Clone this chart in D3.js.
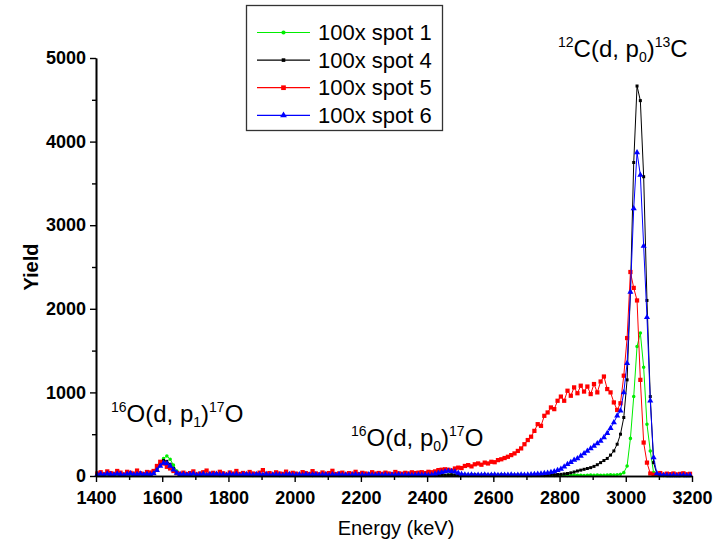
<!DOCTYPE html>
<html><head><meta charset="utf-8">
<script src="https://cdn.jsdelivr.net/npm/d3@7"></script>
<style>body{margin:0;background:#fff} svg{display:block}</style>
</head><body>
<svg id="chart" width="715" height="552"></svg>
<script>
// Energy channels (keV), 10 keV bins
const energies = d3.range(1404, 3200, 10);

const seriesNames = ["100x spot 1", "100x spot 4", "100x spot 5", "100x spot 6"];
const seriesColors = ["#00ee00", "#000000", "#ff0000", "#0000ff"];
const seriesSymbols = ["circle", "square", "square", "triangle"];

const spot1 = [12,18,10,22,15,8,20,14,17,25,11,16,22,9,18,14,20,
40,90,160,210,240,200,130,60,25,
15,10,18,12,8,14,20,11,9,16,13,7,12,18,10,8,15,11,9,14,
12,6,10,16,9,13,8,11,15,7,10,12,9,14,6,11,8,13,10,7,
12,9,6,10,14,8,11,7,9,13,10,6,8,12,9,7,11,10,8,13,
6,9,12,8,10,7,11,9,6,10,8,12,7,9,11,8,6,10,9,7,
12,8,10,6,9,11,7,10,8,9,6,11,8,10,7,9,12,8,6,10,
9,7,11,8,10,6,9,12,8,7,10,9,6,11,8,10,7,9,12,8,
10,7,9,11,8,12,10,9,11,14,12,15,
20,40,120,450,950,1550,1710,1300,620,300,40,10,
8,5,7,6,9,5,8,6,7,5];

const spot4 = [20,28,15,32,22,18,30,25,14,27,35,19,24,30,16,26,22,
35,80,140,185,175,140,90,40,20,
25,18,22,30,15,20,27,12,24,19,28,16,21,14,26,18,23,11,20,25,
17,13,22,19,15,24,10,18,21,16,12,20,23,14,17,19,11,22,15,18,
20,13,16,21,12,19,15,22,14,17,10,18,20,13,16,11,19,15,12,17,
14,18,11,16,13,20,12,15,17,10,14,18,13,16,11,15,12,14,17,10,
13,16,12,15,11,14,10,13,15,12,9,14,11,13,10,12,14,11,9,12,
10,13,11,9,
8,9,10,11,12,13,14,15,16,18,
20,25,30,38,48,60,70,80,90,100,
115,135,160,185,210,250,300,380,500,700,
1150,2200,3750,4665,4490,3580,2100,950,160,25,
8,6,5,7,5,6,4,5,6,5];

const spot5 = [30,45,20,55,35,25,60,40,18,50,38,28,65,33,22,48,42,
60,120,170,150,110,90,60,35,25,
40,22,35,55,18,30,45,65,25,38,20,50,32,15,42,28,60,24,36,19,
48,30,22,40,70,26,35,18,44,30,25,52,20,38,28,16,46,33,24,58,
30,20,42,26,35,62,22,30,40,18,34,27,50,23,38,30,20,45,28,36,
25,40,30,22,48,32,26,38,30,44,35,
40,45,35,50,45,55,70,75,80,75,
65,90,100,95,120,130,115,140,150,135,
160,150,170,165,190,200,215,230,250,270,
300,330,380,430,470,540,620,600,720,760,
820,800,900,950,900,1020,960,1060,990,1080,
1010,1070,980,1100,1000,1130,1190,1040,1000,880,
790,870,1200,1650,2440,2250,2100,1150,400,160,
30,15,
20,35,15,28,22,30,18,25,32,20,26];

const spot6 = [18,25,12,28,20,15,26,22,10,24,30,16,21,27,14,23,19,
30,70,120,155,150,120,75,35,20,
22,16,20,27,13,18,24,10,21,17,25,14,19,12,23,16,20,9,18,22,
15,11,20,17,13,21,9,16,19,14,10,18,21,12,15,17,10,20,13,16,
18,11,14,19,10,17,13,20,12,15,9,16,18,11,14,10,17,13,11,15,
12,16,10,14,12,18,11,13,15,9,12,16,11,14,10,13,
25,35,45,55,60,58,50,35,20,
15,12,14,10,13,11,15,9,12,14,10,13,11,12,15,10,13,14,12,
15,18,20,24,28,32,36,45,55,70,
85,110,140,165,190,210,240,270,300,330,
360,390,420,460,510,570,640,720,780,1000,
1350,2200,3200,3870,3600,2750,1900,900,220,30,
12,8,10,7,9,6,8,10,7,9];

const xTicks = [1400,1600,1800,2000,2200,2400,2600,2800,3000,3200];
const xMinorTicks = [1500,1700,1900,2100,2300,2500,2700,2900,3100];
const yTicks = [0,1000,2000,3000,4000,5000];
const yMinorTicks = [500,1500,2500,3500,4500];

const allSeries = [spot1, spot4, spot5, spot6];

const svg = d3.select("#chart");
const FONT = "'Liberation Sans', Arial, sans-serif";

const x = d3.scaleLinear().domain([1400, 3200]).range([96, 692]);
const y = d3.scaleLinear().domain([0, 5000]).range([476, 58]);

function symbolFor(name, size) {
  const t = name === "circle" ? d3.symbolCircle : name === "square" ? d3.symbolSquare : d3.symbolTriangle;
  return d3.symbol().type(t).size(size)();
}
const symSizes = [10, 9, 18, 16];

allSeries.forEach((vals, i) => {
  const pts = vals.map((v, j) => [energies[j], v]);
  const g = svg.append("g");
  g.append("path")
    .datum(pts)
    .attr("fill", "none")
    .attr("stroke", seriesColors[i])
    .attr("stroke-width", 1)
    .attr("d", d3.line().x(d => x(d[0])).y(d => y(d[1])));
  g.selectAll("path.m").data(pts).join("path")
    .attr("class", "m")
    .attr("d", symbolFor(seriesSymbols[i], symSizes[i]))
    .attr("transform", d => `translate(${x(d[0])},${y(d[1])})`)
    .attr("fill", seriesColors[i]);
});

// axes
const xAxis = svg.append("g").attr("transform", "translate(0,476)")
  .call(d3.axisBottom(x).tickValues(xTicks).tickSize(6).tickSizeOuter(0).tickFormat(d3.format("d")).tickPadding(9));
const xMinor = svg.append("g").attr("transform", "translate(0,476)")
  .call(d3.axisBottom(x).tickValues(xMinorTicks).tickSize(4).tickSizeOuter(0).tickFormat(""));
const yAxis = svg.append("g").attr("transform", "translate(96,0)")
  .call(d3.axisLeft(y).tickValues(yTicks).tickSize(6).tickSizeOuter(0).tickFormat(d3.format("d")).tickPadding(4));
const yMinor = svg.append("g").attr("transform", "translate(96,0)")
  .call(d3.axisLeft(y).tickValues(yMinorTicks).tickSize(4).tickSizeOuter(0).tickFormat(""));

[xAxis, xMinor, yAxis, yMinor].forEach(a => {
  a.select(".domain").attr("stroke", "#000").attr("stroke-width", 1.6);
  a.selectAll(".tick line").attr("stroke", "#000").attr("stroke-width", 1.4);
  a.selectAll("text").attr("font-family", FONT).attr("font-weight", "bold").attr("font-size", 18).attr("fill", "#000");
});

// axis titles
svg.append("text").attr("x", 396).attr("y", 535).attr("text-anchor", "middle")
  .attr("font-family", FONT).attr("font-size", 20).text("Energy (keV)");
svg.append("text").attr("transform", "translate(38,267) rotate(-90)").attr("text-anchor", "middle")
  .attr("font-family", FONT).attr("font-size", 20).attr("font-weight", "bold").text("Yield");

// legend
const lg = svg.append("g");
lg.append("rect").attr("x", 246.5).attr("y", 5.5).attr("width", 196).attr("height", 125)
  .attr("fill", "#fff").attr("stroke", "#333").attr("stroke-width", 1.3);
seriesNames.forEach((name, i) => {
  const yy = 32.5 + i * 27.6;
  lg.append("line").attr("x1", 257).attr("x2", 310).attr("y1", yy).attr("y2", yy)
    .attr("stroke", seriesColors[i]).attr("stroke-width", 1.2);
  lg.append("path").attr("d", symbolFor(seriesSymbols[i], symSizes[i] + 4))
    .attr("transform", `translate(283.5,${yy})`).attr("fill", seriesColors[i]);
  lg.append("text").attr("x", 318).attr("y", yy + 7.5).attr("font-family", FONT)
    .attr("font-size", 22).attr("fill", "#000").text(name);
});

// annotations
function reaction(xp, yp, a, el1, p, el2, b) {
  const t = svg.append("text").attr("x", xp).attr("y", yp).attr("font-family", FONT).attr("font-size", 24).attr("fill", "#000");
  t.append("tspan").attr("font-size", 14).attr("dy", -10).text(a);
  t.append("tspan").attr("dy", 10).text(el1 + "(d, p");
  t.append("tspan").attr("font-size", 14).attr("dy", 5).text(p);
  t.append("tspan").attr("dy", -5).text(")");
  t.append("tspan").attr("font-size", 14).attr("dy", -10).text(b);
  t.append("tspan").attr("dy", 10).text(el2);
}
reaction(558, 57, "12", "C", "0", "C", "13");
reaction(111, 422, "16", "O", "1", "O", "17");
reaction(351, 446, "16", "O", "0", "O", "17");
</script>
</body></html>
